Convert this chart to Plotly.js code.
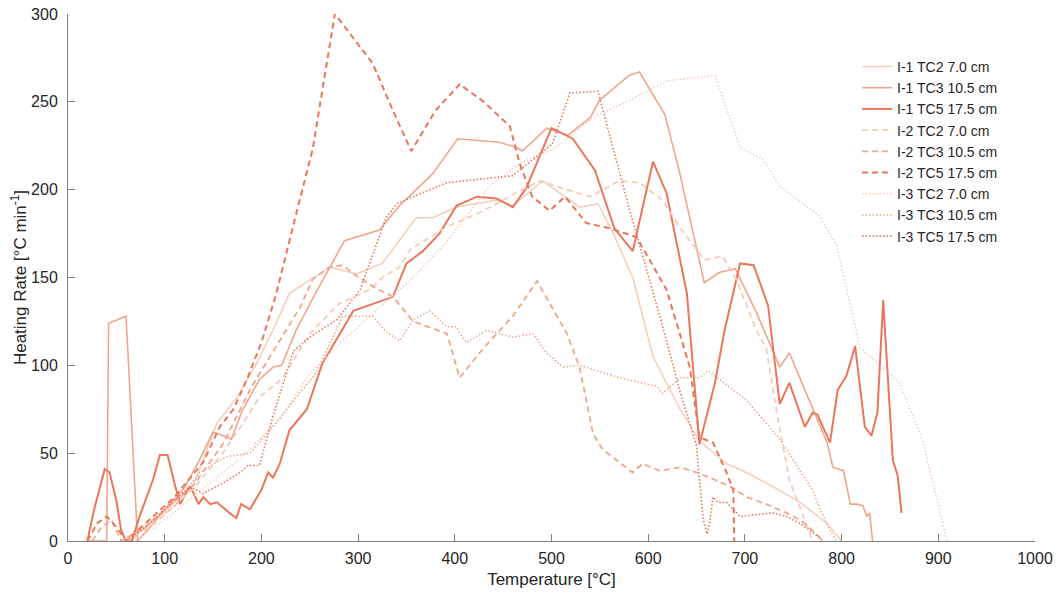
<!DOCTYPE html>
<html>
<head>
<meta charset="utf-8">
<script src="https://cdn.plot.ly/plotly-3.0.1.min.js"></script>
<style>html,body{margin:0;padding:0;background:#fff;}#chart{width:1059px;height:596px;}</style>
</head>
<body>
<div id="chart"></div>
<script>
// ---- data (temperature °C, heating rate °C/min) ----
const names = ["I-1 TC2 7.0 cm","I-1 TC3 10.5 cm","I-1 TC5 17.5 cm","I-2 TC2 7.0 cm","I-2 TC3 10.5 cm","I-2 TC5 17.5 cm","I-3 TC2 7.0 cm","I-3 TC3 10.5 cm","I-3 TC5 17.5 cm"];
const xTicks = [0,100,200,300,400,500,600,700,800,900,1000];
const yTicks = [0,50,100,150,200,250,300];

const i1tc2_T = [65,80,100,130,154,175,195,212,229,271,298,325,360,377,401,443,460,491,529,548,564,584,605,632,653,681,698,729,757,785,800];
const i1tc2_R = [0,8,17,32,67,82,101,120,141,156,152,158,184,184,190,194,191,205,190,192,175,150,105,76,57,44,40,31,22,10,0];

const i1tc3_T = [20,40,42,60,72,85,100,120,135,150,160,169,180,198,212,221,236,253,271,286,322,343,377,403,446,464,470,495,517,540,550,580,591,617,632,658,674,690,712,736,746,770,785,791,802,809,816,822,826,829,832];
const i1tc3_R = [0,0,124,128,0,8,18,30,45,62,60,58,74,92,99,100,120,138,156,171,177,191,209,229,227,224,222,235,231,241,251,265,267,243,211,147,153,155,130,99,107,76,56,42,40,21,21,20,14,16,0];

const i1tc5_T = [20,27,38,43,50,55,60,66,74,88,95,103,110,116,126,130,135,140,147,154,167,174,179,188,200,207,212,219,229,247,263,283,295,336,350,367,384,402,423,443,460,474,500,522,545,565,584,605,619,640,653,669,679,695,709,724,736,746,762,770,775,788,796,805,814,824,831,837,843,853,858,862];
const i1tc5_R = [0,18,41,39,23,6,0,0,14,35,49,49,33,21,31,27,21,25,21,22,16,13,21,18,29,39,36,44,63,75,101,120,131,139,158,165,175,191,196,195,190,201,235,229,211,178,165,216,198,141,55,90,120,158,157,134,78,90,65,73,72,56,86,94,111,65,60,73,137,46,37,16];

const i2tc2_T = [60,90,130,160,181,198,212,222,250,280,312,325,343,354,392,426,470,488,516,540,570,591,615,632,658,677,691,712,722,733,746,770];
const i2tc2_R = [0,10,30,50,67,82,88,93,118,135,143,150,156,166,179,187,200,205,200,196,205,204,194,179,160,162,149,120,110,73,35,0];

const i2tc3_T = [25,35,45,55,80,100,130,160,190,220,240,253,271,284,298,315,336,357,392,405,430,460,485,516,529,543,553,584,594,612,633,650,664,685,702,722,743,757,770,781];
const i2tc3_R = [0,8,12,0,8,18,32,55,88,115,133,149,156,157,151,145,139,125,118,93,110,128,148,118,99,61,52,39,44,40,42,39,36,31,25,21,16,12,6,0];

const i2tc5_T = [20,30,40,50,60,80,110,140,157,171,185,200,215,240,253,276,291,315,336,355,380,405,430,457,467,480,498,514,536,560,588,619,643,653,667,681,688,689];
const i2tc5_R = [0,10,14,8,0,10,25,45,65,75,92,113,140,195,223,300,289,272,245,222,245,260,250,236,215,196,188,196,181,178,173,143,99,59,56,39,29,0];

const i3tc2_T = [70,100,140,180,220,250,280,300,322,357,391,412,436,467,502,543,581,620,669,695,719,736,777,795,819,860,884,902,909];
const i3tc2_R = [0,12,30,48,70,95,112,122,133,150,170,185,202,215,223,241,251,262,265,224,217,202,185,168,110,90,57,16,0];

const i3tc3_T = [55,80,110,136,164,188,209,237,257,284,315,329,343,357,374,392,401,412,433,460,481,495,512,529,570,609,615,633,653,662,702,719,736,770,777,788,795];
const i3tc3_R = [0,8,20,39,48,50,63,82,96,128,128,119,114,126,131,122,122,113,120,116,118,107,99,100,93,88,84,93,93,97,80,69,58,29,19,6,0];

const i3tc5_T = [60,80,100,126,140,160,178,186,198,212,233,250,278,302,329,340,357,392,460,501,519,548,580,612,633,650,653,657,661,664,667,672,681,695,729,743,757,770,781];
const i3tc5_R = [0,8,18,31,27,33,39,43,43,71,108,116,126,143,184,192,196,204,208,226,255,256,190,128,85,54,35,12,4,12,25,22,22,14,16,14,10,5,0];

// ---- styles ----
const cTC2 = '#F5CDB9', cTC3 = '#F1A68C', cTC5 = '#E9775B';
const DASH = '6px,4px', DOT = '1.5px,2px';

const series = [
  [i1tc2_T, i1tc2_R, cTC2, 'solid', 1.5],
  [i1tc3_T, i1tc3_R, cTC3, 'solid', 1.6],
  [i1tc5_T, i1tc5_R, cTC5, 'solid', 2],
  [i2tc2_T, i2tc2_R, cTC2, DASH, 1.8],
  [i2tc3_T, i2tc3_R, cTC3, DASH, 1.8],
  [i2tc5_T, i2tc5_R, cTC5, DASH, 2],
  [i3tc2_T, i3tc2_R, cTC2, DOT, 1.5],
  [i3tc3_T, i3tc3_R, cTC3, DOT, 1.5],
  [i3tc5_T, i3tc5_R, cTC5, DOT, 1.6]
];

const traces = series.map((s, i) => ({
  x: s[0], y: s[1], name: names[i], type: 'scatter', mode: 'lines',
  line: {color: s[2], dash: s[3], width: s[4]}
}));

const fam = 'Liberation Sans, Arial, sans-serif';
const txt = '#262626';

const axisCommon = {
  ticks: 'inside', ticklen: 7, tickcolor: '#808080', showline: true, linecolor: '#808080', linewidth: 1,
  showgrid: false, zeroline: false, mirror: false,
  tickfont: {family: fam, size: 16, color: txt}
};

const layout = {
  width: 1059, height: 596,
  margin: {l: 68, r: 24, t: 14, b: 55},
  paper_bgcolor: '#fff', plot_bgcolor: '#fff',
  showlegend: true,
  font: {family: fam, size: 16, color: txt},
  xaxis: Object.assign({}, axisCommon, {
    range: [0, 1000], tickvals: xTicks, ticklabelstandoff: 3,
    title: {text: 'Temperature [°C]', font: {family: fam, size: 17, color: txt}, standoff: 6}
  }),
  yaxis: Object.assign({}, axisCommon, {
    range: [0, 300], tickvals: yTicks, ticklabelstandoff: 6,
    title: {text: 'Heating Rate [°C min<sup>-1</sup>]', font: {family: fam, size: 17, color: txt}, standoff: 0}
  }),
  legend: {
    x: 0.816, y: 0.93, xanchor: 'left', yanchor: 'top',
    bgcolor: 'rgba(0,0,0,0)', borderwidth: 0,
    font: {family: fam, size: 14, color: txt},
    itemwidth: 30, tracegroupgap: 0
  }
};

Plotly.newPlot('chart', traces, layout, {displayModeBar: false, staticPlot: true});
</script>
</body>
</html>
